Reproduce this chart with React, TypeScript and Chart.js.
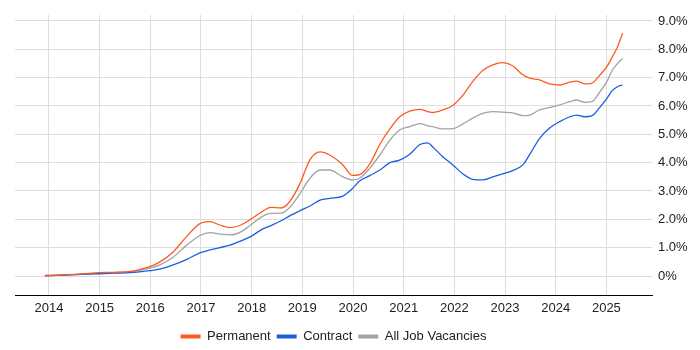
import React, { useEffect, useRef } from "react";
import { Chart, registerables } from "chart.js";

Chart.register(...registerables);

const years: number[] = [
  2013.92, 2014.22, 2014.51, 2014.99, 2015.3, 2015.6, 2015.79, 2015.99, 2016.19, 2016.45,
  2016.72, 2016.98, 2017.18, 2017.37, 2017.57, 2017.79, 2017.98, 2018.18, 2018.38, 2018.58,
  2018.75, 2018.95, 2019.15, 2019.35, 2019.54, 2019.8, 2019.99, 2020.13, 2020.33, 2020.53,
  2020.73, 2020.92, 2021.12, 2021.32, 2021.48, 2021.57, 2021.77, 2021.97, 2022.17, 2022.36,
  2022.56, 2022.76, 2022.95, 2023.15, 2023.35, 2023.49, 2023.68, 2023.88, 2024.08, 2024.28,
  2024.41, 2024.57, 2024.71, 2024.87, 2025.01, 2025.12, 2025.22, 2025.32,
];

const permanent: number[] = [
  0.0, 0.03, 0.06, 0.12, 0.13, 0.16, 0.23, 0.33, 0.5, 0.85,
  1.4, 1.85, 1.92, 1.8, 1.71, 1.8, 2.0, 2.24, 2.42, 2.4,
  2.62, 3.25, 4.1, 4.38, 4.27, 3.92, 3.55, 3.58, 3.95, 4.65,
  5.2, 5.62, 5.82, 5.88, 5.8, 5.77, 5.86, 6.02, 6.38, 6.86,
  7.25, 7.45, 7.53, 7.42, 7.1, 6.98, 6.92, 6.78, 6.74, 6.84,
  6.88, 6.78, 6.8, 7.09, 7.39, 7.74, 8.09, 8.57,
];

const contract: number[] = [
  0.02, 0.03, 0.05, 0.08, 0.1, 0.12, 0.15, 0.19, 0.24, 0.39,
  0.59, 0.82, 0.92, 1.0, 1.09, 1.24, 1.39, 1.62, 1.78, 1.95,
  2.12, 2.3, 2.47, 2.68, 2.74, 2.82, 3.09, 3.35, 3.54, 3.74,
  4.0, 4.09, 4.3, 4.64, 4.7, 4.56, 4.21, 3.92, 3.6, 3.41,
  3.39, 3.5, 3.6, 3.72, 3.92, 4.3, 4.85, 5.22, 5.45, 5.62,
  5.68, 5.62, 5.65, 5.95, 6.27, 6.55, 6.68, 6.74,
];

const allJobs: number[] = [
  0.01, 0.03, 0.05, 0.1, 0.12, 0.14, 0.21, 0.28, 0.39, 0.66,
  1.09, 1.43, 1.53, 1.48, 1.45, 1.56, 1.8, 2.07, 2.21, 2.22,
  2.42, 2.9, 3.45, 3.74, 3.74, 3.5, 3.39, 3.45, 3.8, 4.27,
  4.8, 5.15, 5.27, 5.38, 5.3, 5.27, 5.19, 5.2, 5.37, 5.57,
  5.74, 5.8, 5.78, 5.76, 5.66, 5.68, 5.86, 5.95, 6.04, 6.15,
  6.21, 6.13, 6.15, 6.5, 6.86, 7.27, 7.5, 7.68,
];

const yearTicks: number[] = [2014, 2015, 2016, 2017, 2018, 2019, 2020, 2021, 2022, 2023, 2024, 2025];
const percentTicks: number[] = [0, 1, 2, 3, 4, 5, 6, 7, 8, 9];

const seriesNames = ["Permanent", "Contract", "All Job Vacancies"];
const seriesColors = ["#ff5a1f", "#1a5fe0", "#a3a3a3"];

const FONT = "'Liberation Sans', Arial, sans-serif";

export default function App() {
  const ref = useRef<HTMLCanvasElement | null>(null);

  useEffect(() => {
    if (!ref.current) return;
    const seriesValues = [permanent, contract, allJobs];
    const chart = new Chart(ref.current, {
      type: "line",
      data: {
        datasets: seriesValues.map((vals, i) => ({
          label: seriesNames[i],
          data: vals.map((v, j) => ({ x: years[j], y: v })),
          borderColor: seriesColors[i],
          backgroundColor: seriesColors[i],
          borderWidth: 1.3,
          pointRadius: 0,
          pointHoverRadius: 0,
          fill: false,
          tension: 0.4,
          cubicInterpolationMode: "monotone" as const,
        })),
      },
      options: {
        responsive: false,
        animation: false,
        layout: { padding: { left: 15, top: 15, right: 0, bottom: -3 } },
        plugins: {
          tooltip: { enabled: false },
          legend: {
            position: "bottom",
            fullSize: false,
            labels: {
              boxWidth: 20,
              boxHeight: 4,
              padding: 6,
              color: "#222",
              font: { family: FONT, size: 13 },
              generateLabels: (c: any) => {
                const items = (Chart.defaults.plugins.legend.labels as any).generateLabels(c);
                return items.map((it: any, i: number) => ({
                  ...it,
                  fillStyle: seriesColors[i],
                  strokeStyle: seriesColors[i],
                  lineWidth: 0,
                }));
              },
            },
          },
        },
        scales: {
          x: {
            type: "linear",
            min: 2013.33,
            max: 2025.9,
            afterBuildTicks: (s: any) => {
              s.ticks = yearTicks.map((v) => ({ value: v }));
            },
            afterFit: (s: any) => {
              s.height = 29;
            },
            grid: { color: "#dddddd", drawTicks: false },
            border: { display: true, color: "#000", width: 1 },
            ticks: {
              padding: 6,
              color: "#222",
              font: { family: FONT, size: 13 },
              maxRotation: 0,
              autoSkip: false,
              callback: (v: any) => String(v),
            },
          },
          y: {
            type: "linear",
            position: "right",
            min: -0.67,
            max: 9.21,
            afterBuildTicks: (s: any) => {
              s.ticks = percentTicks.map((v) => ({ value: v }));
            },
            afterFit: (s: any) => {
              s.width = 48;
            },
            grid: { color: "#dddddd", drawTicks: false },
            border: { display: false },
            ticks: {
              padding: 6,
              color: "#222",
              font: { family: FONT, size: 13 },
              callback: (v: any) => (v === 0 ? "0%" : Number(v).toFixed(1) + "%"),
            },
          },
        },
      },
    });
    return () => chart.destroy();
  }, []);

  return (
    <div style={{ position: "absolute", left: 0, top: 0, width: 700, height: 350 }}>
      <canvas ref={ref} width={700} height={350} style={{ display: "block" }} />
    </div>
  );
}
